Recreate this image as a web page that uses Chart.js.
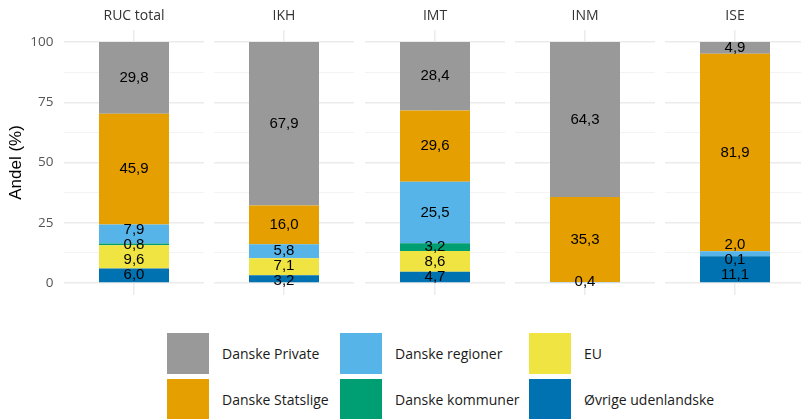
<!DOCTYPE html>
<html>
<head>
<meta charset="utf-8">
<script src="https://cdn.jsdelivr.net/npm/chart.js@4.4.1/dist/chart.umd.min.js"></script>
<style>
  html, body { margin: 0; padding: 0; background: #fff; }
  body { position: relative; width: 801px; height: 419px; overflow: hidden; }
  .panel { position: absolute; top: 0; }
  #legend {
    position: absolute; left: 167px; top: 333px;
    display: grid; grid-auto-flow: column;
    grid-template-rows: 41px 41px; row-gap: 5px;
    grid-template-columns: 173px 189px auto;
    font-family: 'Open Sans', sans-serif; font-size: 14px; color: #1a1a1a;
  }
  .item { display: flex; align-items: center; }
  .swatch { width: 42px; height: 41px; margin-right: 13px; }
</style>
</head>
<body>
<div id="legend"></div>
<script>
// facets and series (bottom of the stack first)
const facets = ['RUC total', 'IKH', 'IMT', 'INM', 'ISE'];
const categories = ['Øvrige udenlandske', 'EU', 'Danske kommuner', 'Danske regioner', 'Danske Statslige', 'Danske Private'];
const oevrige   = [6.0, 3.2, 4.7, 0, 11.1];
const eu        = [9.6, 7.1, 8.6, 0, 0];
const kommuner  = [0.8, 0, 3.2, 0, 0.1];
const regioner  = [7.9, 5.8, 25.5, 0.4, 2.0];
const statslige = [45.9, 16.0, 29.6, 35.3, 81.9];
const privat    = [29.8, 67.9, 28.4, 64.3, 4.9];
const yTicks = [0, 25, 50, 75, 100];

const series = [oevrige, eu, kommuner, regioner, statslige, privat];
const colors = ['#0072B2', '#F0E442', '#009E73', '#56B4E9', '#E69F00', '#999999'];

// major + minor grid values
const gridValues = [];
yTicks.forEach((t, i) => {
    gridValues.push(t);
    if (i < yTicks.length - 1) gridValues.push((t + yTicks[i + 1]) / 2);
});

// value labels, pushed apart when they would overlap
const valueLabels = {
    id: 'valueLabels',
    afterDatasetsDraw(chart) {
        const ctx = chart.ctx;
        const items = [];
        chart.data.datasets.forEach((ds, k) => {
            const bar = chart.getDatasetMeta(k).data[0];
            const v = ds.data[0];
            if (!bar || !v) return;
            items.push({ x: bar.x, c: (bar.y + bar.base) / 2, text: v.toFixed(1).replace('.', ',') });
        });
        items.sort((a, b) => b.c - a.c);
        const gap = 15;
        const groups = [];
        items.forEach(it => {
            groups.push({ list: [it], sum: -it.c, start: -it.c });
            while (groups.length > 1) {
                const b = groups[groups.length - 1], a = groups[groups.length - 2];
                if (b.start >= a.start + a.list.length * gap) break;
                a.list = a.list.concat(b.list);
                a.sum += b.sum;
                a.start = a.sum / a.list.length - (a.list.length - 1) * gap / 2;
                groups.pop();
            }
        });
        ctx.save();
        ctx.font = "15px 'Liberation Sans', Arial, sans-serif";
        ctx.fillStyle = '#000';
        ctx.textAlign = 'center';
        ctx.textBaseline = 'middle';
        groups.forEach(g => g.list.forEach((it, j) => {
            ctx.fillText(it.text, it.x, -(g.start + j * gap));
        }));
        ctx.restore();
    }
};

const charts = [];
facets.forEach((facet, i) => {
    const first = i === 0;
    const canvas = document.createElement('canvas');
    canvas.className = 'panel';
    canvas.width = first ? 204 : 140;
    canvas.height = 300;
    canvas.style.left = (first ? 0 : Math.round(64 + i * 150.3)) + 'px';
    document.body.appendChild(canvas);

    charts.push(new Chart(canvas, {
        type: 'bar',
        data: {
            labels: [facet],
            datasets: series.map((s, k) => ({
                label: categories[k],
                data: [s[i]],
                backgroundColor: colors[k],
                barPercentage: 0.5,
                categoryPercentage: 1
            }))
        },
        options: {
            responsive: false,
            animation: false,
            layout: { padding: { top: 0, bottom: 5, left: 0, right: 0 } },
            plugins: { legend: { display: false }, tooltip: { enabled: false } },
            scales: {
                x: {
                    position: 'top',
                    stacked: true,
                    offset: true,
                    grid: { offset: false, color: '#ebebeb', lineWidth: 1.5, drawTicks: false },
                    border: { display: false },
                    ticks: { padding: 6, color: '#333', font: { family: "'Open Sans', sans-serif", size: 14 } },
                    afterFit: scale => { scale.height = 30; }
                },
                y: {
                    stacked: true,
                    min: -5,
                    max: 105,
                    afterBuildTicks: scale => { scale.ticks = gridValues.map(v => ({ value: v })); },
                    grid: {
                        drawTicks: false,
                        color: c => yTicks.includes(c.tick.value) ? '#ebebeb' : '#f3f3f3',
                        lineWidth: c => yTicks.includes(c.tick.value) ? 1.5 : 1
                    },
                    border: { display: false },
                    ticks: {
                        display: first,
                        padding: 10.5,
                        color: '#555',
                        font: { family: "'Open Sans', sans-serif", size: 13.5 },
                        callback: v => yTicks.includes(v) ? v : ''
                    },
                    title: {
                        display: first,
                        text: 'Andel (%)',
                        color: '#000',
                        padding: { top: 6, bottom: 0 },
                        font: { family: "'Liberation Sans', Arial, sans-serif", size: 17 }
                    },
                    afterFit: scale => {
                        scale.width = first ? 64 : 0;
                        scale.paddingTop = 0;
                        scale.paddingBottom = 0;
                    }
                }
            }
        },
        plugins: [valueLabels]
    }));
});

// legend: same order as the reference, filled column by column
const legend = document.getElementById('legend');
charts[0].data.datasets.slice().reverse().forEach(ds => {
    const item = document.createElement('div');
    item.className = 'item';
    const sw = document.createElement('span');
    sw.className = 'swatch';
    sw.style.background = ds.backgroundColor;
    const txt = document.createElement('span');
    txt.textContent = ds.label;
    item.appendChild(sw);
    item.appendChild(txt);
    legend.appendChild(item);
});
</script>
</body>
</html>
